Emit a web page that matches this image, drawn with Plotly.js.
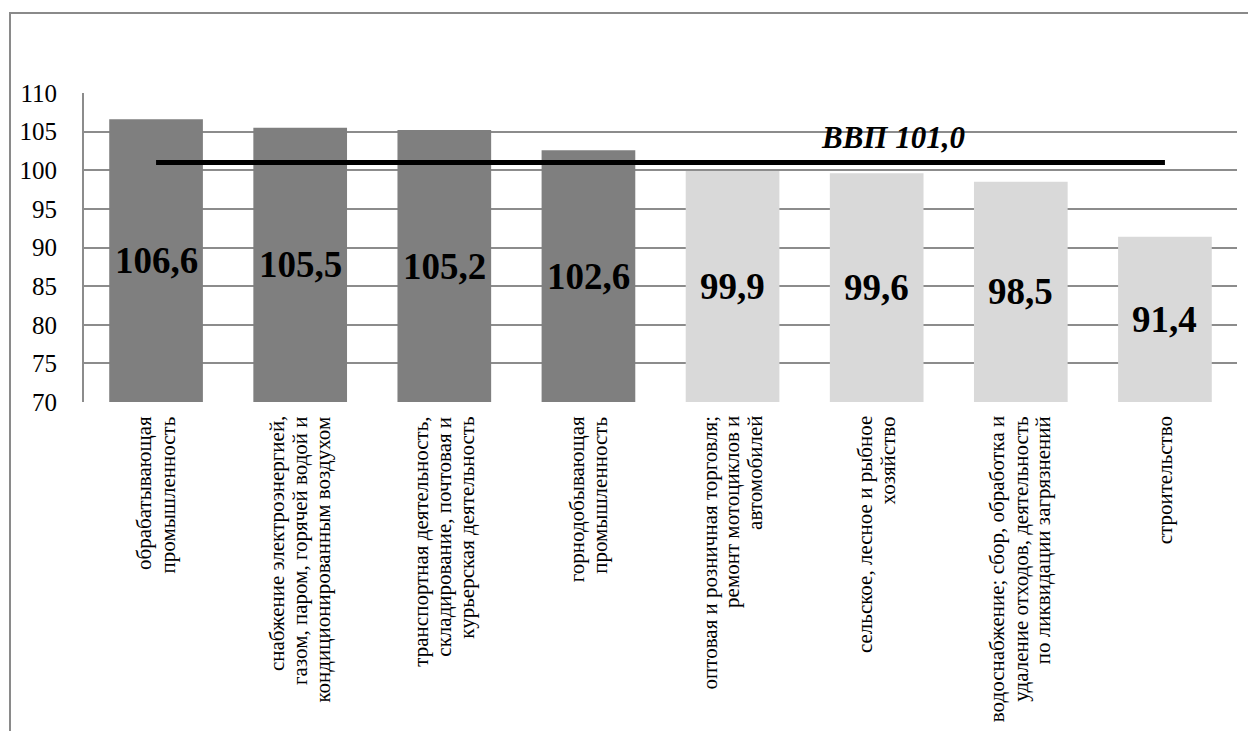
<!DOCTYPE html>
<html>
<head>
<meta charset="utf-8">
<script src="https://cdn.plot.ly/plotly-3.0.1.min.js"></script>
<style>
  html, body { margin: 0; padding: 0; background: #fff; }
  #wrap { position: relative; width: 1248px; height: 731px; overflow: hidden; }
  #frame { position: absolute; left: 9px; top: 12px; width: 1400px; height: 900px;
           border-left: 2px solid #8a8a8a; border-top: 2px solid #8a8a8a; }
  #chart { position: absolute; left: 0; top: 0; width: 1248px; height: 731px; }
</style>
</head>
<body>
<div id="wrap">
  <div id="frame"></div>
  <div id="chart"></div>
</div>
<script>
// ---- data ----
const categories = [
  "обрабатывающая<br>промышленность",
  "снабжение электроэнергией,<br>газом, паром, горячей водой и<br>кондиционированным воздухом",
  "транспортная деятельность,<br>складирование, почтовая и<br>курьерская деятельность",
  "горнодобывающая<br>промышленность",
  "оптовая и розничная торговля;<br>ремонт мотоциклов и<br>автомобилей",
  "сельское, лесное и рыбное<br>хозяйство",
  "водоснабжение; сбор, обработка и<br>удаление отходов, деятельность<br>по ликвидации загрязнений",
  "строительство"
];
const values = [106.6, 105.5, 105.2, 102.6, 99.9, 99.6, 98.5, 91.4];
const gdp = 101.0;
const gdpLabel = "ВВП 101,0";
const yTicks = [70, 75, 80, 85, 90, 95, 100, 105, 110];

// ---- styles ----
const dark = "#7f7f7f";
const light = "#d9d9d9";
const serif = "Liberation Serif, Times New Roman, serif";
const catFontSize = 21;
const catLineStep = 23;

const idx = categories.map((c, i) => i);
const yMin = yTicks[0], yMax = yTicks[yTicks.length - 1];

const bars = {
  type: "bar",
  x: idx,
  y: values,
  base: 0,
  marker: { color: values.map(v => v > gdp ? dark : light) },
  hoverinfo: "skip",
  showlegend: false
};

const line = {
  type: "scatter",
  mode: "lines",
  x: [idx[0], idx[idx.length - 1]],
  y: [gdp, gdp],
  line: { color: "#000", width: 5 },
  hoverinfo: "skip",
  showlegend: false
};

// category labels: one annotation per text line, rotated, centred on the bar
const catAnnotations = [];
categories.forEach((c, i) => {
  const lines = c.split("<br>");
  const n = lines.length;
  lines.forEach((ln, j) => {
    catAnnotations.push({
      x: i, xref: "x",
      y: -0.04, yref: "paper",
      xshift: (j - (n - 1) / 2) * catLineStep,
      text: ln,
      showarrow: false,
      textangle: -90,
      xanchor: "center",
      yanchor: "top",
      font: { family: serif, size: catFontSize, color: "#000" }
    });
  });
});

// value labels centred inside bars (between axis floor and bar top)
const valAnnotations = values.map((v, i) => ({
  x: i, xref: "x",
  y: (yMin + v) / 2, yref: "y",
  text: "<b>" + v.toFixed(1).replace(".", ",") + "</b>",
  showarrow: false,
  xanchor: "center",
  yanchor: "middle",
  font: { family: serif, size: 37, color: "#000" }
}));

const gdpAnnotation = {
  x: 5.11, xref: "x",
  y: 104.3, yref: "y",
  text: "<b><i>" + gdpLabel + "</i></b>",
  showarrow: false,
  xanchor: "center",
  yanchor: "middle",
  font: { family: serif, size: 31, color: "#000" }
};

const layout = {
  width: 1248, height: 731,
  margin: { l: 84, r: 11, t: 93, b: 329 },
  paper_bgcolor: "rgba(0,0,0,0)",
  plot_bgcolor: "rgba(0,0,0,0)",
  bargap: 0.35,
  xaxis: {
    range: [-0.5, categories.length - 0.5],
    showticklabels: false,
    ticks: "",
    showgrid: false,
    zeroline: false,
    showline: false,
    fixedrange: true
  },
  yaxis: {
    range: [yMin, yMax],
    tickvals: yTicks,
    ticktext: yTicks.map(String),
    ticks: "",
    ticklabelstandoff: 20,
    tickfont: { family: serif, size: 25, color: "#000" },
    showgrid: true,
    gridcolor: "#8c8c8c",
    gridwidth: 2,
    zeroline: false,
    showline: true,
    linecolor: "#8c8c8c",
    linewidth: 2,
    fixedrange: true
  },
  annotations: catAnnotations.concat(valAnnotations, [gdpAnnotation])
};

Plotly.newPlot("chart", [bars, line], layout, { displayModeBar: false, staticPlot: true });
</script>
</body>
</html>
